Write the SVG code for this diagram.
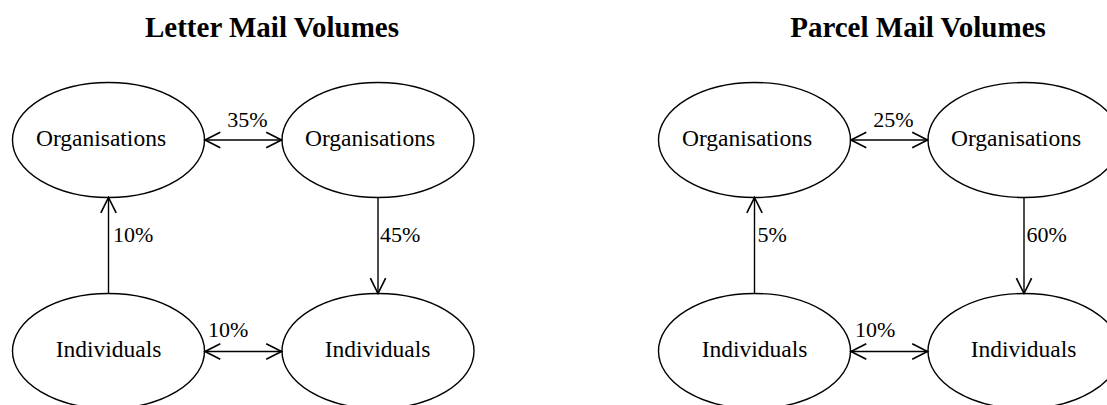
<svg xmlns="http://www.w3.org/2000/svg" width="1107" height="405" viewBox="0 0 1107 405">
  <style>
    .node ellipse { fill: #ffffff; stroke: #000000; stroke-width: 1.4; }
    .node text { font-family: "Liberation Serif", "Times New Roman", serif; font-size: 23.5px; fill: #000000; text-anchor: middle; }
    .title { font-family: "Liberation Serif", "Times New Roman", serif; font-size: 29px; font-weight: bold; fill: #000000; text-anchor: middle; }
    .edge { stroke: #000000; stroke-width: 1.4; fill: none; }
    .lbl { font-family: "Liberation Serif", "Times New Roman", serif; font-size: 22px; fill: #000000; }
  </style>
  <defs>
    <marker id="vee" markerUnits="userSpaceOnUse" markerWidth="20" markerHeight="20" viewBox="-15 -8 17 16" refX="0" refY="0" orient="auto-start-reverse">
      <path d="M -13 -6.5 L 0 0 L -13 6.5" fill="none" stroke="#000000" stroke-width="1.4"/>
    </marker>
  </defs>
  <rect width="1107" height="405" fill="#ffffff"/>

  <text class="title" x="272" y="37">Letter Mail Volumes</text>
  <text class="title" x="918" y="37">Parcel Mail Volumes</text>

  <!-- Letter panel -->
  <g id="letter-org-left" class="node">
    <ellipse cx="108.5" cy="140" rx="96" ry="57.5"/>
    <text x="101" y="146">Organisations</text>
  </g>
  <g id="letter-org-right" class="node">
    <ellipse cx="378" cy="140" rx="96" ry="57.5"/>
    <text x="370" y="146">Organisations</text>
  </g>
  <g id="letter-ind-left" class="node">
    <ellipse cx="108.5" cy="351" rx="96" ry="57.5"/>
    <text x="108.5" y="357">Individuals</text>
  </g>
  <g id="letter-ind-right" class="node">
    <ellipse cx="378" cy="351" rx="96" ry="57.5"/>
    <text x="377.5" y="357">Individuals</text>
  </g>

  <!-- Parcel panel -->
  <g id="parcel-org-left" class="node">
    <ellipse cx="754.5" cy="140" rx="96" ry="57.5"/>
    <text x="747" y="146">Organisations</text>
  </g>
  <g id="parcel-org-right" class="node">
    <ellipse cx="1024" cy="140" rx="96" ry="57.5"/>
    <text x="1016" y="146">Organisations</text>
  </g>
  <g id="parcel-ind-left" class="node">
    <ellipse cx="754.5" cy="351" rx="96" ry="57.5"/>
    <text x="754.5" y="357">Individuals</text>
  </g>
  <g id="parcel-ind-right" class="node">
    <ellipse cx="1024" cy="351" rx="96" ry="57.5"/>
    <text x="1023.5" y="357">Individuals</text>
  </g>

  <g id="connectors">
    <!-- Letter -->
    <line class="edge" x1="205" y1="140" x2="281.5" y2="140" marker-start="url(#vee)" marker-end="url(#vee)"/>
    <line class="edge" x1="108.5" y1="293.5" x2="108.5" y2="197.5" marker-end="url(#vee)"/>
    <line class="edge" x1="378" y1="197.5" x2="378" y2="293.5" marker-end="url(#vee)"/>
    <line class="edge" x1="205" y1="351.5" x2="281.5" y2="351.5" marker-start="url(#vee)" marker-end="url(#vee)"/>
    <!-- Parcel -->
    <line class="edge" x1="851" y1="140" x2="927.5" y2="140" marker-start="url(#vee)" marker-end="url(#vee)"/>
    <line class="edge" x1="754.5" y1="293.5" x2="754.5" y2="197.5" marker-end="url(#vee)"/>
    <line class="edge" x1="1024" y1="197.5" x2="1024" y2="293.5" marker-end="url(#vee)"/>
    <line class="edge" x1="851" y1="351.5" x2="927.5" y2="351.5" marker-start="url(#vee)" marker-end="url(#vee)"/>
  </g>

  <g id="edge-labels">
    <text class="lbl" x="247.5" y="126.5" text-anchor="middle">35%</text>
    <text class="lbl" x="113" y="242">10%</text>
    <text class="lbl" x="380" y="242">45%</text>
    <text class="lbl" x="208" y="337">10%</text>
    <text class="lbl" x="893.5" y="126.5" text-anchor="middle">25%</text>
    <text class="lbl" x="757.5" y="242">5%</text>
    <text class="lbl" x="1026.5" y="242">60%</text>
    <text class="lbl" x="855" y="337">10%</text>
  </g>
</svg>
